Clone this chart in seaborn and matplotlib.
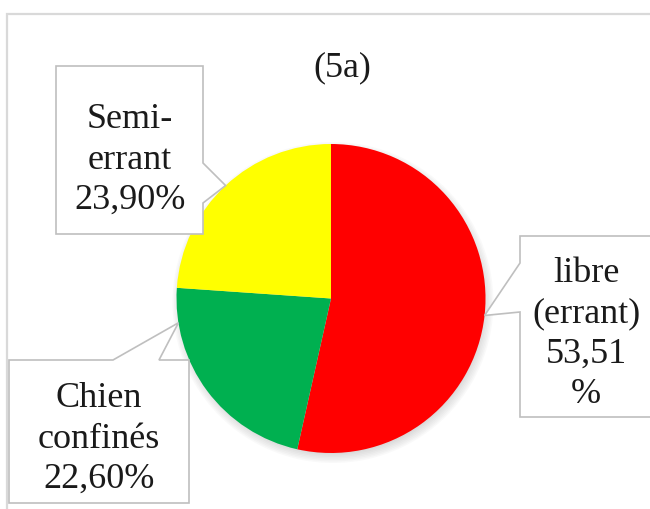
import numpy as np
import matplotlib
matplotlib.use("Agg")
import matplotlib.pyplot as plt
from matplotlib.patches import Polygon, Circle
from matplotlib import font_manager as fm
import seaborn as sns

# ---- data ----
categories = ["libre (errant)", "Chien confinés", "Semi-errant"]
values = [53.51, 22.60, 23.90]
label_texts = ["libre\n(errant)\n53,51\n%", "Chien\nconfinés\n22,60%", "Semi-\nerrant\n23,90%"]
colors = ["#FF0000", "#00B050", "#FFFF00"]
title = "(5a)"

# ---- layout (pixels from top-left) ----
W, H = 650, 509
PIE_C = (331, 298.5)
PIE_R = 154.5
boxes = [
    dict(box=(520, 236, 662, 417), side="left", base=(263, 312), frac=0.5, text=(586, 334)),
    dict(box=(9, 360, 189, 503), side="top", base=(113, 159), frac=0.84, text=(99, 439)),
    dict(box=(56, 66, 203, 234), side="right", base=(163, 203), frac=0.5, text=(130, 160)),
]

sns.set_theme(style="white")
plt.rcParams["font.family"] = ["Liberation Serif", "DejaVu Serif"]
FONT = fm.FontProperties(family="Liberation Serif", size=26)

fig = plt.figure(figsize=(W / 100, H / 100), dpi=100)
fig.patch.set_facecolor("white")
ax = fig.add_axes([0, 0, 1, 1])


def P(x, y):
    return (x, H - y)


cx, cy = P(*PIE_C)

# soft shadow
for k in range(7):
    ax.add_patch(Circle((cx + 2, cy - 4), PIE_R + 1.5 * k - 3, facecolor="#808080",
                        edgecolor="none", alpha=0.045, zorder=1))

wedges, _ = ax.pie(values, colors=colors, startangle=90, counterclock=False,
                   center=(cx, cy), radius=PIE_R,
                   wedgeprops=dict(linewidth=0, edgecolor="none", zorder=2))
for w in wedges:
    w.set_zorder(2)

ax.set_xlim(0, W)
ax.set_ylim(0, H)
ax.set_aspect("equal")
ax.axis("off")

# chart border
ax.plot([7, 7, 700], [-20, H - 14, H - 14], color="#d9d9d9", lw=1.6, zorder=0,
        solid_joinstyle="miter")

# title
ax.text(*P(342, 68), title, ha="center", va="center", fontproperties=FONT, color="#1a1a1a")

edge = "#bfbfbf"
for w, b, txt in zip(wedges, boxes, label_texts):
    t1, t2 = w.theta1, w.theta2
    ang = np.deg2rad(t2 - b["frac"] * (t2 - t1))
    tip = (cx + PIE_R * np.cos(ang), cy + PIE_R * np.sin(ang))
    x0, y0, x1, y1 = b["box"]
    a, c = b["base"]
    if b["side"] == "right":
        pts = [P(x0, y0), P(x1, y0), P(x1, a), tip, P(x1, c), P(x1, y1), P(x0, y1)]
    elif b["side"] == "left":
        pts = [P(x0, y0), P(x1, y0), P(x1, y1), P(x0, y1), P(x0, c), tip, P(x0, a)]
    else:  # top
        pts = [P(x0, y0), P(a, y0), tip, P(c, y0), P(x1, y0), P(x1, y1), P(x0, y1)]
    ax.add_patch(Polygon(pts, closed=True, facecolor="white", edgecolor=edge,
                         lw=1.2, zorder=3, joinstyle="miter"))
    ax.text(*P(*b["text"]), txt, ha="center", va="center", fontproperties=FONT,
            color="#1a1a1a", linespacing=1.3, zorder=4)

fig.savefig("out.png", dpi=100, facecolor="white")
